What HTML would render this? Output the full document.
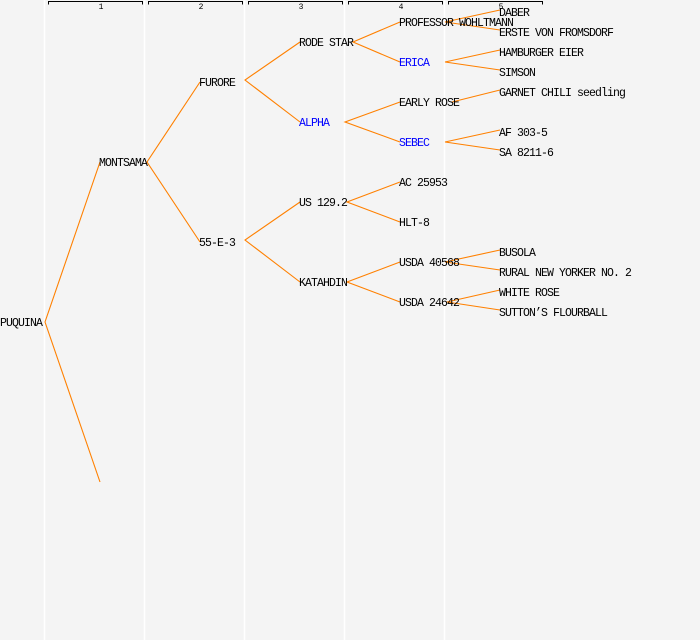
<!DOCTYPE html>
<html><head><meta charset="utf-8"><style>
html,body{margin:0;padding:0;background:#f4f4f4;}
svg{display:block;}
text{font-family:"Liberation Mono","DejaVu Sans Mono",monospace;font-size:11.5px;letter-spacing:-0.9px;fill:#000;}
.b{fill:#0000ff;}
.h{font-size:8px;letter-spacing:0;}
</style></head><body>
<svg width="700" height="640" xmlns="http://www.w3.org/2000/svg">
<rect width="700" height="640" fill="#f4f4f4"/>
<g stroke="#ffffff" stroke-width="1.5">
<line x1="44.5" y1="0" x2="44.5" y2="640"/><line x1="144.5" y1="0" x2="144.5" y2="640"/><line x1="244.5" y1="0" x2="244.5" y2="640"/><line x1="344.5" y1="0" x2="344.5" y2="640"/><line x1="444.5" y1="0" x2="444.5" y2="640"/>
</g>
<g fill="none" stroke="#000" stroke-width="1">
<path d="M48.5 4.5V1.5H142.5V4.5"/><path d="M148.5 4.5V1.5H242.5V4.5"/><path d="M248.5 4.5V1.5H342.5V4.5"/><path d="M348.5 4.5V1.5H442.5V4.5"/><path d="M448.5 4.5V1.5H542.5V4.5"/>
</g>
<g text-anchor="middle">
<text class="h" x="101" y="9">1</text><text class="h" x="201" y="9">2</text><text class="h" x="301" y="9">3</text><text class="h" x="401" y="9">4</text><text class="h" x="501" y="9">5</text>
</g>
<g stroke="#ff8000" stroke-width="1.1" fill="none">
<path d="M100 162L45 322L100 482"/>
<path d="M200 82L147 162L200 242"/>
<path d="M300 42L245 80L300 122"/>
<path d="M300 202L245 240L300 282"/>
<path d="M400 22L353 42L400 62"/>
<path d="M400 102L345 122L400 142"/>
<path d="M400 182L347 202L400 222"/>
<path d="M400 262L347 282L400 302"/>
<path d="M500 10L445 22L500 30"/>
<path d="M500 50L445 62L500 70"/>
<path d="M500 90L452 102"/>
<path d="M500 130L445 142L500 150"/>
<path d="M500 250L445 262L500 270"/>
<path d="M500 290L447 302L500 310"/>
</g>
<text x="0" y="326">PUQUINA</text>
<text x="99" y="166">MONTSAMA</text>
<text x="199" y="86">FURORE</text>
<text x="199" y="246">55-E-3</text>
<text x="299" y="46">RODE STAR</text>
<text x="299" y="126" class="b">ALPHA</text>
<text x="299" y="206">US 129.2</text>
<text x="299" y="286">KATAHDIN</text>
<text x="399" y="26">PROFESSOR WOHLTMANN</text>
<text x="399" y="66" class="b">ERICA</text>
<text x="399" y="106">EARLY ROSE</text>
<text x="399" y="146" class="b">SEBEC</text>
<text x="399" y="186">AC 25953</text>
<text x="399" y="226">HLT-8</text>
<text x="399" y="266">USDA 40568</text>
<text x="399" y="306">USDA 24642</text>
<text x="499" y="16">DABER</text>
<text x="499" y="36">ERSTE VON FROMSDORF</text>
<text x="499" y="56">HAMBURGER EIER</text>
<text x="499" y="76">SIMSON</text>
<text x="499" y="96">GARNET CHILI seedling</text>
<text x="499" y="136">AF 303-5</text>
<text x="499" y="156">SA 8211-6</text>
<text x="499" y="256">BUSOLA</text>
<text x="499" y="276">RURAL NEW YORKER NO. 2</text>
<text x="499" y="296">WHITE ROSE</text>
<text x="499" y="316">SUTTON’S FLOURBALL</text>
</svg>
</body></html>
